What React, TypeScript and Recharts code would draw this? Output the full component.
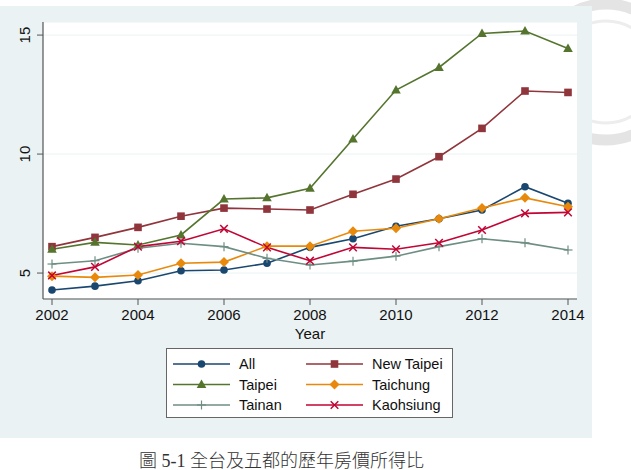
import React from "react";
import { LineChart, Line, XAxis, YAxis, CartesianGrid } from "recharts";

const years = [2002, 2003, 2004, 2005, 2006, 2007, 2008, 2009, 2010, 2011, 2012, 2013, 2014];
const allVals = [4.29, 4.45, 4.68, 5.1, 5.13, 5.41, 6.08, 6.44, 6.97, 7.28, 7.65, 8.63, 7.93];
const newTaipeiVals = [6.11, 6.5, 6.92, 7.39, 7.73, 7.69, 7.65, 8.31, 8.95, 9.89, 11.08, 12.65, 12.59];
const taipeiVals = [6.0, 6.29, 6.18, 6.6, 8.11, 8.16, 8.56, 10.63, 12.69, 13.64, 15.07, 15.17, 14.44];
const taichungVals = [4.87, 4.82, 4.92, 5.41, 5.46, 6.13, 6.13, 6.76, 6.88, 7.28, 7.73, 8.16, 7.79];
const tainanVals = [5.38, 5.52, 6.04, 6.25, 6.11, 5.62, 5.34, 5.5, 5.71, 6.11, 6.44, 6.27, 5.97];
const kaohsiungVals = [4.9, 5.26, 6.11, 6.34, 6.86, 6.08, 5.52, 6.08, 6.0, 6.27, 6.81, 7.51, 7.55];

const xTicks = [2002, 2004, 2006, 2008, 2010, 2012, 2014];
const yTicks = [5, 10, 15];

const data = years.map((y, i) => ({
  year: y,
  all: allVals[i],
  newTaipei: newTaipeiVals[i],
  taipei: taipeiVals[i],
  taichung: taichungVals[i],
  tainan: tainanVals[i],
  kaohsiung: kaohsiungVals[i],
}));

type Shape = "circle" | "square" | "triangle" | "diamond" | "plus" | "x";

const series: { key: string; name: string; color: string; shape: Shape }[] = [
  { key: "all", name: "All", color: "#1A476F", shape: "circle" },
  { key: "newTaipei", name: "New Taipei", color: "#90353B", shape: "square" },
  { key: "taipei", name: "Taipei", color: "#55752F", shape: "triangle" },
  { key: "taichung", name: "Taichung", color: "#E8890C", shape: "diamond" },
  { key: "tainan", name: "Tainan", color: "#6E8E84", shape: "plus" },
  { key: "kaohsiung", name: "Kaohsiung", color: "#C10534", shape: "x" },
];

const FONT = "'Liberation Sans', Arial, sans-serif";

function Marker({ shape, cx, cy, color }: { shape: Shape; cx: number; cy: number; color: string }) {
  switch (shape) {
    case "circle":
      return <circle cx={cx} cy={cy} r={3.8} fill={color} />;
    case "square":
      return <rect x={cx - 3.8} y={cy - 3.8} width={7.6} height={7.6} fill={color} />;
    case "triangle":
      return <polygon points={`${cx},${cy - 5} ${cx - 4.8},${cy + 3.5} ${cx + 4.8},${cy + 3.5}`} fill={color} />;
    case "diamond":
      return <polygon points={`${cx},${cy - 5} ${cx + 5},${cy} ${cx},${cy + 5} ${cx - 5},${cy}`} fill={color} />;
    case "plus":
      return (
        <g stroke={color} strokeWidth={1.2}>
          <line x1={cx - 4.5} y1={cy} x2={cx + 4.5} y2={cy} />
          <line x1={cx} y1={cy - 4.5} x2={cx} y2={cy + 4.5} />
        </g>
      );
    case "x":
      return (
        <g stroke={color} strokeWidth={1.5}>
          <line x1={cx - 3.8} y1={cy - 3.8} x2={cx + 3.8} y2={cy + 3.8} />
          <line x1={cx - 3.8} y1={cy + 3.8} x2={cx + 3.8} y2={cy - 3.8} />
        </g>
      );
  }
  return null;
}

const makeDot = (shape: Shape, color: string) => (props: any) => {
  const { cx, cy, index } = props;
  if (cx == null || cy == null) return <g key={index} />;
  return (
    <g key={index}>
      <Marker shape={shape} cx={cx} cy={cy} color={color} />
    </g>
  );
};

const YTick = (props: any) => {
  const { x, y, payload } = props;
  const bx = x - 4.5;
  return (
    <text
      x={bx}
      y={y}
      transform={`rotate(-90 ${bx} ${y})`}
      textAnchor="middle"
      fontSize={15}
      fill="#111"
      fontFamily={FONT}
    >
      {payload.value}
    </text>
  );
};

function LegendBox() {
  const rows = [
    [series[0], series[1]],
    [series[2], series[3]],
    [series[4], series[5]],
  ];
  return (
    <div
      style={{
        position: "absolute",
        left: 166,
        top: 348,
        width: 287,
        height: 70,
        background: "#fff",
        border: "1px solid #666",
        boxSizing: "border-box",
      }}
    >
      <svg width={287} height={70} style={{ position: "absolute", left: 0, top: 0 }}>
        {rows.map((row, r) =>
          row.map((s, c) => {
            const lx = c === 0 ? 6 : 139;
            const cy = 15 + r * 20.5;
            return (
              <g key={s.key}>
                <line x1={lx} y1={cy} x2={lx + 57} y2={cy} stroke={s.color} strokeWidth={1.6} />
                <Marker shape={s.shape} cx={lx + 28.5} cy={cy} color={s.color} />
                <text x={lx + 66} y={cy + 5} fontSize={14.5} fontFamily={FONT} fill="#111">
                  {s.name}
                </text>
              </g>
            );
          })
        )}
      </svg>
    </div>
  );
}

export default function App() {
  return (
    <div style={{ position: "absolute", left: 0, top: 0, width: 631, height: 470, background: "#fff", overflow: "hidden" }}>
      <svg width={631} height={470} style={{ position: "absolute", left: 0, top: 0 }}>
        <circle cx={606} cy={72} r={68} fill="none" stroke="#e4e4e4" strokeWidth={11} />
        <circle cx={606} cy={72} r={51} fill="none" stroke="#ededed" strokeWidth={3} />
      </svg>
      <div style={{ position: "absolute", left: 0, top: 6, width: 592, height: 432, background: "#EAF2F3" }}>
        <LineChart
          width={592}
          height={432}
          data={data}
          margin={{ top: 16, right: 15, left: 0, bottom: 99 }}
        >
          <CartesianGrid horizontal={true} vertical={false} stroke="#EAF2F3" strokeWidth={1} fill="#fff" />
          <XAxis
            dataKey="year"
            type="number"
            domain={[2002, 2014]}
            ticks={xTicks}
            padding={{ left: 9, right: 9 }}
            height={40}
            tick={{ fontSize: 15, fill: "#111", fontFamily: FONT }}
            tickSize={6}
            tickMargin={4}
            stroke="#555"
            axisLine={{ stroke: "#555", strokeWidth: 1.2 }}
            label={{ value: "Year", position: "insideBottom", offset: 0, fontSize: 15, fill: "#111", fontFamily: FONT }}
          />
          <YAxis
            type="number"
            domain={[3.91, 15.55]}
            ticks={yTicks}
            width={43}
            tick={<YTick />}
            tickSize={6}
            stroke="#555"
            axisLine={{ stroke: "#555", strokeWidth: 1.2 }}
            allowDataOverflow
          />
          {series.map((s) => (
            <Line
              key={s.key}
              dataKey={s.key}
              name={s.name}
              stroke={s.color}
              strokeWidth={1.6}
              dot={makeDot(s.shape, s.color)}
              activeDot={false}
              isAnimationActive={false}
            />
          ))}
        </LineChart>
      </div>
      <LegendBox />
      <div
        style={{
          position: "absolute",
          left: 139,
          top: 452,
          fontSize: 18,
          fontWeight: 300,
          fontFamily: "'Liberation Serif', 'Noto Sans CJK TC', serif",
          color: "#333",
          whiteSpace: "nowrap",
          lineHeight: "18px",
        }}
      >
        圖 5-1 全台及五都的歷年房價所得比
      </div>
    </div>
  );
}
